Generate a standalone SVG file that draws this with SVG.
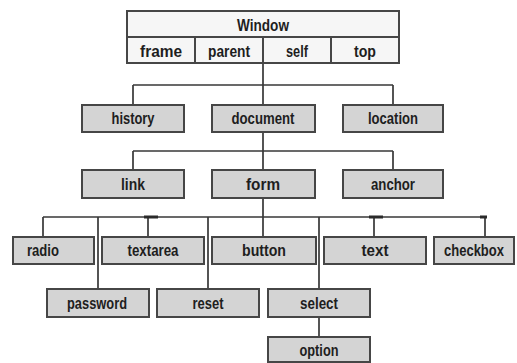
<svg xmlns="http://www.w3.org/2000/svg" width="517" height="363" viewBox="0 0 517 363">
  <style>
    .box { fill: #d4d4d4; stroke: #464646; stroke-width: 2; }
    .win { fill: #f6f6f6; stroke: #464646; stroke-width: 2; }
    .lbl { font-family: "Liberation Sans", Arial, sans-serif; font-weight: bold; font-size: 17px; fill: #1e1e1e; text-anchor: middle; }
    .wire { fill: none; stroke: #383838; stroke-width: 1.7; }
    .tick { fill: none; stroke: #2a2a2a; stroke-width: 3; }
  </style>
  <rect width="517" height="363" fill="#ffffff"/>

  <!-- Connectors -->
  <g id="connectors">
    <!-- window to history / document / location -->
    <path class="wire" d="M263,63 V105 M133,85 H393 M133,85 V105 M393,85 V105"/>
    <!-- document to link / form / anchor -->
    <path class="wire" d="M263,132 V170 M133,151 H393 M133,151 V170 M393,151 V170"/>
    <!-- form to its controls -->
    <path class="wire" d="M263,198 V237 M43,217 H485 M43,217 V237 M98,217 V289 M148,217 V237 M208,217 V289 M319,217 V289 M374,217 V237 M485,217 V237"/>
    <!-- select to option -->
    <path class="wire" d="M319,317 V337"/>
    <path class="tick" d="M144,217 H158 M369,217 H383 M480,217 H487"/>
  </g>

  <!-- Window object -->
  <g id="window">
    <rect class="win" x="127" y="11" width="272" height="52"/>
    <line x1="127" y1="37" x2="399" y2="37" stroke="#464646" stroke-width="2"/>
    <line x1="195" y1="37" x2="195" y2="63" stroke="#464646" stroke-width="2"/>
    <line x1="263" y1="37" x2="263" y2="63" stroke="#464646" stroke-width="2"/>
    <line x1="331" y1="37" x2="331" y2="63" stroke="#464646" stroke-width="2"/>
    <text class="lbl" x="263" y="31" textLength="52" lengthAdjust="spacingAndGlyphs">Window</text>
    <text class="lbl" x="161" y="57" textLength="42" lengthAdjust="spacingAndGlyphs">frame</text>
    <text class="lbl" x="229" y="57" textLength="42" lengthAdjust="spacingAndGlyphs">parent</text>
    <text class="lbl" x="297" y="57" textLength="22" lengthAdjust="spacingAndGlyphs">self</text>
    <text class="lbl" x="365" y="57" textLength="22" lengthAdjust="spacingAndGlyphs">top</text>
  </g>

  <g id="history">
    <rect class="box" x="82" y="105" width="102" height="27"/>
    <text class="lbl" x="133" y="124" textLength="43" lengthAdjust="spacingAndGlyphs">history</text>
  </g>
  <g id="document">
    <rect class="box" x="212" y="105" width="103" height="27"/>
    <text class="lbl" x="263" y="124" textLength="63" lengthAdjust="spacingAndGlyphs">document</text>
  </g>
  <g id="location">
    <rect class="box" x="343" y="105" width="100" height="27"/>
    <text class="lbl" x="393" y="124" textLength="50" lengthAdjust="spacingAndGlyphs">location</text>
  </g>

  <g id="link">
    <rect class="box" x="82" y="170" width="102" height="28"/>
    <text class="lbl" x="133" y="190" textLength="24" lengthAdjust="spacingAndGlyphs">link</text>
  </g>
  <g id="form">
    <rect class="box" x="212" y="170" width="103" height="28"/>
    <text class="lbl" x="263" y="190" textLength="34" lengthAdjust="spacingAndGlyphs">form</text>
  </g>
  <g id="anchor">
    <rect class="box" x="343" y="170" width="100" height="28"/>
    <text class="lbl" x="393" y="190" textLength="44" lengthAdjust="spacingAndGlyphs">anchor</text>
  </g>

  <g id="radio">
    <rect class="box" x="13" y="237" width="81" height="27"/>
    <text class="lbl" x="43" y="256" textLength="32" lengthAdjust="spacingAndGlyphs">radio</text>
  </g>
  <g id="textarea">
    <rect class="box" x="102" y="237" width="102" height="27"/>
    <text class="lbl" x="153" y="256" textLength="51" lengthAdjust="spacingAndGlyphs">textarea</text>
  </g>
  <g id="button">
    <rect class="box" x="212" y="237" width="104" height="27"/>
    <text class="lbl" x="264" y="256" textLength="44" lengthAdjust="spacingAndGlyphs">button</text>
  </g>
  <g id="text">
    <rect class="box" x="324" y="237" width="102" height="27"/>
    <text class="lbl" x="375" y="256" textLength="27" lengthAdjust="spacingAndGlyphs">text</text>
  </g>
  <g id="checkbox">
    <rect class="box" x="434" y="237" width="80" height="27"/>
    <text class="lbl" x="474" y="256" textLength="60" lengthAdjust="spacingAndGlyphs">checkbox</text>
  </g>

  <g id="password">
    <rect class="box" x="47" y="289" width="102" height="28"/>
    <text class="lbl" x="97" y="309" textLength="60" lengthAdjust="spacingAndGlyphs">password</text>
  </g>
  <g id="reset">
    <rect class="box" x="157" y="289" width="102" height="28"/>
    <text class="lbl" x="208" y="309" textLength="31" lengthAdjust="spacingAndGlyphs">reset</text>
  </g>
  <g id="select">
    <rect class="box" x="268" y="289" width="102" height="28"/>
    <text class="lbl" x="319" y="309" textLength="38" lengthAdjust="spacingAndGlyphs">select</text>
  </g>

  <g id="option">
    <rect class="box" x="268" y="337" width="102" height="25"/>
    <text class="lbl" x="319" y="356" textLength="39" lengthAdjust="spacingAndGlyphs">option</text>
  </g>
</svg>
